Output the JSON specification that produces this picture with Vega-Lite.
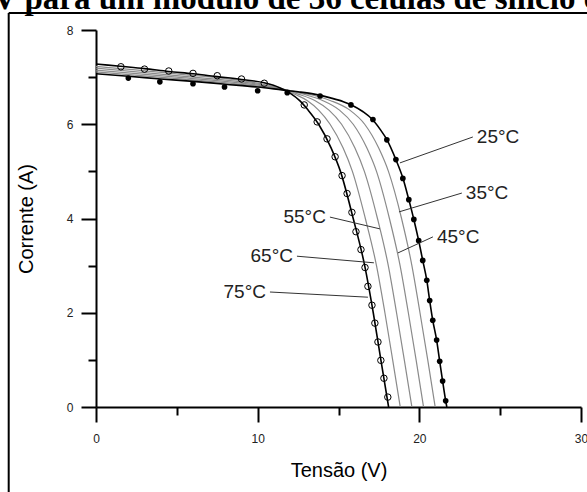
{
  "$schema": "https://vega.github.io/schema/vega-lite/v6.json",
  "width": 485,
  "height": 377,
  "autosize": {"type": "none"},
  "padding": {"left": 96, "top": 30, "right": 6, "bottom": 85},
  "background": "white",
  "title": {"text": "V para um módulo de 36 células de silício c", "font": "Liberation Serif", "fontSize": 33, "fontWeight": "bold", "anchor": "start", "frame": "group", "dx": -103, "baseline": "alphabetic", "dy": 30, "offset": 0, "color": "black"},
  "config": {"view": {"stroke": null}, "axis": {"grid": false, "labelFont": "Liberation Sans", "titleFont": "Liberation Sans", "titleFontWeight": "normal"}},
  "datasets": {
    "curves": [
      {"t": 25, "v": 0, "i": 7.07}, {"t": 25, "v": 2, "i": 7.02}, {"t": 25, "v": 4, "i": 6.96}, {"t": 25, "v": 6, "i": 6.91}, {"t": 25, "v": 8, "i": 6.85}, {"t": 25, "v": 10, "i": 6.79}, {"t": 25, "v": 11.5, "i": 6.73}, {"t": 25, "v": 12.5, "i": 6.69}, {"t": 25, "v": 13.5, "i": 6.64}, {"t": 25, "v": 14.5, "i": 6.56}, {"t": 25, "v": 15.3, "i": 6.48}, {"t": 25, "v": 15.8, "i": 6.41}, {"t": 25, "v": 16.5, "i": 6.27}, {"t": 25, "v": 17.1, "i": 6.1}, {"t": 25, "v": 17.6, "i": 5.88}, {"t": 25, "v": 18.0, "i": 5.67}, {"t": 25, "v": 18.55, "i": 5.25}, {"t": 25, "v": 19.0, "i": 4.84}, {"t": 25, "v": 19.35, "i": 4.4}, {"t": 25, "v": 19.66, "i": 3.98}, {"t": 25, "v": 19.96, "i": 3.53}, {"t": 25, "v": 20.21, "i": 3.11}, {"t": 25, "v": 20.46, "i": 2.69}, {"t": 25, "v": 20.64, "i": 2.26}, {"t": 25, "v": 20.83, "i": 1.84}, {"t": 25, "v": 21.07, "i": 1.42}, {"t": 25, "v": 21.26, "i": 0.97}, {"t": 25, "v": 21.44, "i": 0.55}, {"t": 25, "v": 21.63, "i": 0.13}, {"t": 25, "v": 21.7, "i": 0},
      {"t": 35, "v": 0, "i": 7.11}, {"t": 35, "v": 5, "i": 6.97}, {"t": 35, "v": 10, "i": 6.81}, {"t": 35, "v": 11.5, "i": 6.74}, {"t": 35, "v": 12.5, "i": 6.68}, {"t": 35, "v": 13.5, "i": 6.61}, {"t": 35, "v": 14.52, "i": 6.5}, {"t": 35, "v": 15.7, "i": 6.3}, {"t": 35, "v": 16.62, "i": 6.0}, {"t": 35, "v": 17.48, "i": 5.5}, {"t": 35, "v": 18.09, "i": 5.0}, {"t": 35, "v": 18.9, "i": 4.0}, {"t": 35, "v": 19.54, "i": 3.0}, {"t": 35, "v": 20.04, "i": 2.0}, {"t": 35, "v": 20.52, "i": 1.0}, {"t": 35, "v": 20.98, "i": 0},
      {"t": 45, "v": 0, "i": 7.15}, {"t": 45, "v": 5, "i": 7.0}, {"t": 45, "v": 10, "i": 6.83}, {"t": 45, "v": 11.5, "i": 6.75}, {"t": 45, "v": 12.5, "i": 6.67}, {"t": 45, "v": 13.2, "i": 6.6}, {"t": 45, "v": 14.04, "i": 6.5}, {"t": 45, "v": 15.06, "i": 6.3}, {"t": 45, "v": 15.91, "i": 6.0}, {"t": 45, "v": 16.75, "i": 5.5}, {"t": 45, "v": 17.35, "i": 5.0}, {"t": 45, "v": 18.15, "i": 4.0}, {"t": 45, "v": 18.81, "i": 3.0}, {"t": 45, "v": 19.32, "i": 2.0}, {"t": 45, "v": 19.8, "i": 1.0}, {"t": 45, "v": 20.26, "i": 0},
      {"t": 55, "v": 0, "i": 7.19}, {"t": 55, "v": 5, "i": 7.03}, {"t": 55, "v": 10, "i": 6.85}, {"t": 55, "v": 11.5, "i": 6.75}, {"t": 55, "v": 12.5, "i": 6.64}, {"t": 55, "v": 13.56, "i": 6.5}, {"t": 55, "v": 14.41, "i": 6.3}, {"t": 55, "v": 15.19, "i": 6.0}, {"t": 55, "v": 16.01, "i": 5.5}, {"t": 55, "v": 16.6, "i": 5.0}, {"t": 55, "v": 17.41, "i": 4.0}, {"t": 55, "v": 18.08, "i": 3.0}, {"t": 55, "v": 18.59, "i": 2.0}, {"t": 55, "v": 19.07, "i": 1.0}, {"t": 55, "v": 19.54, "i": 0},
      {"t": 65, "v": 0, "i": 7.23}, {"t": 65, "v": 5, "i": 7.07}, {"t": 65, "v": 10, "i": 6.87}, {"t": 65, "v": 11, "i": 6.8}, {"t": 65, "v": 11.8, "i": 6.71}, {"t": 65, "v": 12.4, "i": 6.62}, {"t": 65, "v": 13.08, "i": 6.5}, {"t": 65, "v": 13.77, "i": 6.3}, {"t": 65, "v": 14.48, "i": 6.0}, {"t": 65, "v": 15.28, "i": 5.5}, {"t": 65, "v": 15.86, "i": 5.0}, {"t": 65, "v": 16.66, "i": 4.0}, {"t": 65, "v": 17.35, "i": 3.0}, {"t": 65, "v": 17.87, "i": 2.0}, {"t": 65, "v": 18.35, "i": 1.0}, {"t": 65, "v": 18.82, "i": 0},
      {"t": 75, "v": 0, "i": 7.28}, {"t": 75, "v": 1.5, "i": 7.23}, {"t": 75, "v": 3, "i": 7.18}, {"t": 75, "v": 4.5, "i": 7.12}, {"t": 75, "v": 6, "i": 7.07}, {"t": 75, "v": 7.5, "i": 7.01}, {"t": 75, "v": 9, "i": 6.95}, {"t": 75, "v": 10.4, "i": 6.88}, {"t": 75, "v": 11.4, "i": 6.77}, {"t": 75, "v": 12.0, "i": 6.66}, {"t": 75, "v": 12.6, "i": 6.5}, {"t": 75, "v": 13.12, "i": 6.3}, {"t": 75, "v": 13.77, "i": 6.0}, {"t": 75, "v": 14.54, "i": 5.5}, {"t": 75, "v": 15.12, "i": 5.0}, {"t": 75, "v": 15.91, "i": 4.0}, {"t": 75, "v": 16.62, "i": 3.0}, {"t": 75, "v": 17.15, "i": 2.0}, {"t": 75, "v": 17.62, "i": 1.0}, {"t": 75, "v": 18.1, "i": 0}
    ],
    "dots25": [
      {"v": 2.0, "i": 6.98}, {"v": 3.95, "i": 6.9}, {"v": 6.0, "i": 6.86}, {"v": 7.95, "i": 6.79}, {"v": 10.0, "i": 6.71}, {"v": 11.83, "i": 6.67}, {"v": 13.86, "i": 6.6}, {"v": 15.77, "i": 6.41}, {"v": 17.13, "i": 6.1}, {"v": 17.99, "i": 5.67}, {"v": 18.55, "i": 5.25}, {"v": 18.98, "i": 4.85}, {"v": 19.35, "i": 4.4}, {"v": 19.66, "i": 3.98}, {"v": 19.96, "i": 3.53}, {"v": 20.21, "i": 3.11}, {"v": 20.46, "i": 2.69}, {"v": 20.64, "i": 2.26}, {"v": 20.83, "i": 1.84}, {"v": 21.07, "i": 1.42}, {"v": 21.26, "i": 0.97}, {"v": 21.44, "i": 0.55}, {"v": 21.63, "i": 0.13}
    ],
    "circles75": [
      {"v": 1.54, "i": 7.22}, {"v": 3.0, "i": 7.17}, {"v": 4.5, "i": 7.13}, {"v": 6.0, "i": 7.08}, {"v": 7.5, "i": 7.03}, {"v": 9.0, "i": 6.96}, {"v": 10.41, "i": 6.87}, {"v": 12.88, "i": 6.41}, {"v": 13.68, "i": 6.05}, {"v": 14.29, "i": 5.69}, {"v": 14.79, "i": 5.31}, {"v": 15.22, "i": 4.91}, {"v": 15.53, "i": 4.53}, {"v": 15.83, "i": 4.13}, {"v": 16.08, "i": 3.72}, {"v": 16.39, "i": 3.34}, {"v": 16.64, "i": 2.96}, {"v": 16.82, "i": 2.56}, {"v": 17.07, "i": 2.16}, {"v": 17.25, "i": 1.78}, {"v": 17.44, "i": 1.38}, {"v": 17.62, "i": 0.99}, {"v": 17.81, "i": 0.61}, {"v": 18.05, "i": 0.21}
    ],
    "labels": [
      {"label": "25°C", "side": "right", "px": 18.8, "py": 5.18, "lx": 23.31, "ly": 5.73},
      {"label": "35°C", "side": "right", "px": 18.74, "py": 4.14, "lx": 22.63, "ly": 4.54},
      {"label": "45°C", "side": "right", "px": 18.68, "py": 3.27, "lx": 20.84, "ly": 3.61},
      {"label": "55°C", "side": "left", "px": 17.56, "py": 3.78, "lx": 14.47, "ly": 4.03},
      {"label": "65°C", "side": "left", "px": 17.19, "py": 3.06, "lx": 12.43, "ly": 3.2},
      {"label": "75°C", "side": "left", "px": 16.82, "py": 2.33, "lx": 10.76, "ly": 2.44}
    ],
    "frame": [
      {"edge": "left", "x1": -5.4, "x2": -5.4, "y1": -2.5, "y2": 8.36},
      {"edge": "top", "x1": -5.4, "x2": 32, "y1": 8.36, "y2": 8.36}
    ]
  },
  "layer": [
    {
      "data": {"name": "curves"},
      "transform": [{"filter": "datum.t > 25 && datum.t < 75"}],
      "mark": {"type": "line", "color": "#8a8a8a", "strokeWidth": 1.2, "interpolate": "monotone"},
      "encoding": {
        "x": {"field": "v", "type": "quantitative", "scale": {"domain": [0, 30], "nice": false, "zero": false},
          "axis": {"orient": "bottom", "values": [0, 10, 20, 30], "title": "Tensão (V)", "tickSize": 15, "tickWidth": 2, "tickColor": "black", "domainWidth": 2, "domainColor": "black", "labelFontSize": 12, "labelColor": "#222", "labelPadding": 11, "titleFontSize": 20, "titleColor": "black", "titlePadding": 16, "labelFlush": false}},
        "y": {"field": "i", "type": "quantitative", "scale": {"domain": [0, 8], "nice": false, "zero": false},
          "axis": {"orient": "left", "values": [0, 2, 4, 6, 8], "title": "Corrente (A)", "tickSize": 15, "tickWidth": 2, "tickColor": "black", "domainWidth": 2, "domainColor": "black", "labelFontSize": 12, "labelColor": "#222", "labelPadding": 8, "titleFontSize": 20, "titleColor": "black", "titlePadding": 30, "labelFlush": false}},
        "detail": {"field": "t", "type": "nominal"}
      }
    },
    {
      "data": {"name": "curves"},
      "transform": [{"filter": "datum.t == 25 || datum.t == 75"}],
      "mark": {"type": "line", "color": "black", "strokeWidth": 1.6, "interpolate": "monotone"},
      "encoding": {
        "x": {"field": "v", "type": "quantitative", "scale": {"domain": [0, 30], "nice": false, "zero": false},
          "axis": {"orient": "bottom", "values": [5, 15, 25], "title": null, "labels": false, "domain": false, "tickSize": 8, "tickWidth": 2, "tickColor": "black"}},
        "y": {"field": "i", "type": "quantitative", "scale": {"domain": [0, 8], "nice": false, "zero": false},
          "axis": {"orient": "left", "values": [1, 3, 5, 7], "title": null, "labels": false, "domain": false, "tickSize": 8, "tickWidth": 2, "tickColor": "black"}},
        "detail": {"field": "t", "type": "nominal"}
      }
    },
    {
      "data": {"name": "dots25"},
      "mark": {"type": "point", "filled": true, "color": "black", "size": 32, "opacity": 1},
      "encoding": {
        "x": {"field": "v", "type": "quantitative", "axis": null},
        "y": {"field": "i", "type": "quantitative", "axis": null}
      }
    },
    {
      "data": {"name": "circles75"},
      "mark": {"type": "point", "filled": false, "color": "black", "size": 42, "strokeWidth": 1, "opacity": 1},
      "encoding": {
        "x": {"field": "v", "type": "quantitative", "axis": null},
        "y": {"field": "i", "type": "quantitative", "axis": null}
      }
    },
    {
      "data": {"name": "labels"},
      "mark": {"type": "rule", "color": "#333", "strokeWidth": 1},
      "encoding": {
        "x": {"field": "px", "type": "quantitative", "axis": null},
        "y": {"field": "py", "type": "quantitative", "axis": null},
        "x2": {"field": "lx"},
        "y2": {"field": "ly"}
      }
    },
    {
      "data": {"name": "labels"},
      "transform": [{"filter": "datum.side == 'right'"}],
      "mark": {"type": "text", "align": "left", "baseline": "middle", "dx": 4, "font": "Liberation Sans", "fontSize": 19, "color": "#222"},
      "encoding": {
        "x": {"field": "lx", "type": "quantitative", "axis": null},
        "y": {"field": "ly", "type": "quantitative", "axis": null},
        "text": {"field": "label"}
      }
    },
    {
      "data": {"name": "labels"},
      "transform": [{"filter": "datum.side == 'left'"}],
      "mark": {"type": "text", "align": "right", "baseline": "middle", "dx": -4, "font": "Liberation Sans", "fontSize": 19, "color": "#222"},
      "encoding": {
        "x": {"field": "lx", "type": "quantitative", "axis": null},
        "y": {"field": "ly", "type": "quantitative", "axis": null},
        "text": {"field": "label"}
      }
    },
    {
      "data": {"name": "frame"},
      "mark": {"type": "rule", "color": "black", "strokeWidth": 2, "clip": false},
      "encoding": {
        "x": {"field": "x1", "type": "quantitative", "axis": null},
        "x2": {"field": "x2"},
        "y": {"field": "y1", "type": "quantitative", "axis": null},
        "y2": {"field": "y2"}
      }
    }
  ],
  "resolve": {"axis": {"x": "independent", "y": "independent"}}
}
